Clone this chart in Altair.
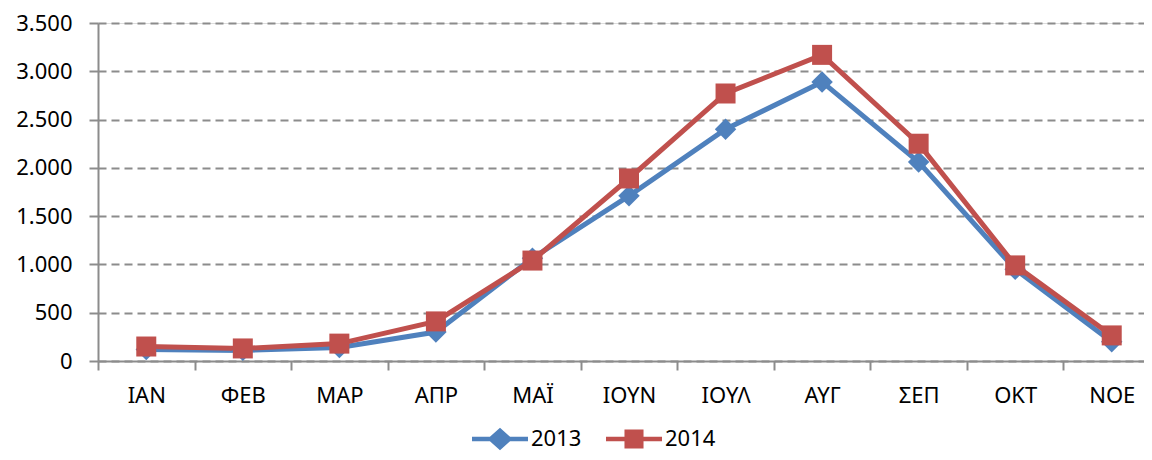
import altair as alt
import pandas as pd

months = ["ΙΑΝ", "ΦΕΒ", "ΜΑΡ", "ΑΠΡ", "ΜΑΪ", "ΙΟΥΝ", "ΙΟΥΛ", "ΑΥΓ", "ΣΕΠ", "ΟΚΤ", "ΝΟΕ"]
v2013 = [120, 110, 140, 300, 1065, 1710, 2400, 2890, 2060, 950, 200]
v2014 = [150, 130, 180, 410, 1040, 1890, 2770, 3170, 2250, 990, 265]
series = ["2013", "2014"]
y_ticks = [0, 500, 1000, 1500, 2000, 2500, 3000, 3500]

rows = []
for m, a, b in zip(months, v2013, v2014):
    rows.append({"month": m, "year": "2013", "value": a})
    rows.append({"month": m, "year": "2014", "value": b})
df = pd.DataFrame(rows)

FONT = "Noto Sans"
GRAY = "#8c8c8c"
colors = ["#4F81BD", "#C0504D"]

# legend symbols: line segment with marker
diamond_line = ("M-1,-0.08L-0.36,-0.08L0,-0.4L0.36,-0.08L1,-0.08L1,0.08L0.36,0.08"
                "L0,0.4L-0.36,0.08L-1,0.08Z")
square_line = ("M-1,-0.08L-0.34,-0.08L-0.34,-0.34L0.34,-0.34L0.34,-0.08L1,-0.08L1,0.08"
               "L0.34,0.08L0.34,0.34L-0.34,0.34L-0.34,0.08L-1,0.08Z")
legend_paths = [diamond_line, square_line]
legend_x = [374, 508]

x_enc = alt.X("month:N", sort=months, title=None,
              scale=alt.Scale(type="band", paddingInner=0, paddingOuter=0, range=[0, 1062]),
              bandPosition=0.5,
              axis=alt.Axis(tickBand="extent", labelFont=FONT, labelFontSize=22,
                            labelColor="#000000", labelAngle=0, labelPadding=15,
                            tickSize=9, tickColor=GRAY, tickWidth=2,
                            domainColor=GRAY, domainWidth=2, grid=False))
y_enc = alt.Y("value:Q", title=None,
              scale=alt.Scale(domain=[0, 3500], nice=False),
              axis=alt.Axis(values=y_ticks, labelFont=FONT, labelFontSize=22,
                            labelColor="#000000", labelPadding=17,
                            labelExpr="replace(format(datum.value, ','), ',', '.')",
                            tickSize=9, tickColor=GRAY, tickWidth=2,
                            domainColor=GRAY, domainWidth=2,
                            grid=True, gridColor=GRAY, gridWidth=2, gridDash=[8, 5]))

lines = alt.Chart(df).mark_line(strokeWidth=5).encode(
    x=x_enc, y=y_enc, color=alt.Color("year:N", scale=alt.Scale(domain=series, range=colors), legend=None)
)

points = alt.Chart(df).mark_point(filled=True, opacity=1).encode(
    x=x_enc, y=y_enc,
    color=alt.Color("year:N", scale=alt.Scale(domain=series, range=colors), legend=None),
    shape=alt.Shape("year:N", scale=alt.Scale(domain=series, range=["diamond", "square"]), legend=None),
    size=alt.Size("year:N", scale=alt.Scale(domain=series, range=[460, 400]), legend=None),
)

layers = [lines, points]
for s, c, p, lx in zip(series, colors, legend_paths, legend_x):
    leg = alt.Legend(title=None, orient="none", direction="horizontal",
                     legendX=lx, legendY=388, padding=0,
                     labelFont=FONT, labelFontSize=22, labelColor="#000000",
                     labelOffset=3, symbolSize=3136, symbolOpacity=1,
                     symbolStrokeWidth=0, symbolFillColor=c)
    layers.append(
        alt.Chart(df[df["year"] == s]).mark_point(filled=True, opacity=0, color=c).encode(
            x=x_enc, y=y_enc,
            shape=alt.Shape("year:N", scale=alt.Scale(domain=[s], range=[p]), legend=leg),
        )
    )

chart = alt.layer(*layers).resolve_scale(
    shape="independent", size="independent"
).properties(
    width=1046, height=338,
    autosize=alt.AutoSizeParams(type="none"),
    padding={"left": 90, "top": 15, "right": 0, "bottom": 91},
).configure_view(stroke=None).configure(background="white")

chart.save("out.html", embed_options={"renderer": "svg", "actions": False})
